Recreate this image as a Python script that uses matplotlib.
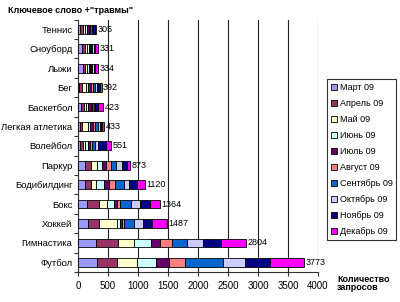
import matplotlib.pyplot as plt
import numpy as np
from matplotlib.ticker import MultipleLocator, FixedLocator

plt.rcParams['font.family'] = ['Liberation Sans', 'DejaVu Sans']

sports = ["Теннис", "Сноуборд", "Лыжи", "Бег", "Баскетбол", "Легкая атлетика",
          "Волейбол", "Паркур", "Бодибилдинг", "Бокс", "Хоккей", "Гимнастика", "Футбол"]
months = ["Март 09", "Апрель 09", "Май 09", "Июнь 09", "Июль 09", "Август 09",
          "Сентябрь 09", "Октябрь 09", "Ноябрь 09", "Декабрь 09"]
totals = [305, 331, 334, 392, 423, 433, 551, 873, 1120, 1364, 1487, 2804, 3773]

# запросы по месяцам (март..декабрь) для каждого вида спорта
values = {
    "Теннис":          [30, 50, 40, 30, 30, 20, 30, 20, 30, 25],
    "Сноуборд":        [70, 40, 40, 25, 25, 15, 25, 20, 20, 51],
    "Лыжи":            [90, 30, 30, 30, 20, 20, 20, 30, 20, 44],
    "Бег":             [20, 40, 70, 40, 40, 40, 40, 30, 40, 32],
    "Баскетбол":       [50, 50, 40, 30, 40, 30, 30, 20, 40, 93],
    "Легкая атлетика": [40, 20, 110, 30, 50, 40, 40, 30, 40, 33],
    "Волейбол":        [40, 40, 40, 40, 40, 30, 50, 50, 130, 91],
    "Паркур":          [112, 111, 94, 88, 67, 73, 95, 100, 83, 50],
    "Бодибилдинг":     [112, 111, 72, 133, 89, 95, 150, 88, 133, 137],
    "Бокс":            [157, 188, 138, 112, 55, 45, 183, 162, 155, 169],
    "Хоккей":          [167, 178, 305, 45, 38, 34, 166, 150, 150, 254],
    "Гимнастика":      [306, 361, 266, 279, 161, 194, 256, 260, 307, 414],
    "Футбол":          [317, 333, 333, 312, 217, 266, 639, 361, 428, 567],
}
colors = ["#9999FF", "#993366", "#FFFFCC", "#CCFFFF", "#660066", "#FF8080",
          "#0066CC", "#CCCCFF", "#000080", "#FF00FF"]

fig = plt.figure(figsize=(4, 3.02), dpi=100)
ax = fig.add_axes([0.195, 0.099, 0.6, 0.836])

y = np.arange(len(sports))[::-1]
data = np.array([values[s] for s in sports])
left = np.zeros(len(sports))
for j, m in enumerate(months):
    ax.barh(y, data[:, j], left=left, height=0.45, color=colors[j],
            edgecolor="black", linewidth=0.6, label=m, zorder=3)
    left += data[:, j]

for yi, t in zip(y, totals):
    ax.text(t + 25, yi, str(t), va="center", ha="left", fontsize=6.5, zorder=4)

ax.set_xlim(0, 4000)
ax.set_ylim(-0.5, len(sports) - 0.5)
ax.xaxis.set_major_locator(MultipleLocator(500))
ax.set_yticks(y)
ax.set_yticklabels(sports, fontsize=6.8)
ax.yaxis.set_minor_locator(FixedLocator(np.arange(-0.5, len(sports), 1)))
ax.tick_params(axis="y", which="major", length=0, pad=4)
ax.tick_params(axis="y", which="minor", length=3, width=0.8, color="#333333")
ax.tick_params(axis="x", labelsize=7, length=3, width=0.8, color="#333333")
ax.grid(axis="x", color="#222222", linewidth=0.8, zorder=0)
for side in ["top", "right"]:
    ax.spines[side].set_visible(False)
ax.spines["left"].set_color("#333333")
ax.spines["bottom"].set_color("#333333")

fig.text(0.02, 0.965, 'Ключевое слово +"травмы"', fontsize=6.5, fontweight="bold",
         ha="left", va="center")
fig.text(0.843, 0.062, "Количество\nзапросов", fontsize=6.5, fontweight="bold",
         ha="left", va="center", linespacing=0.9)

leg = fig.legend(loc="upper left", bbox_to_anchor=(0.818, 0.737), fontsize=6.5,
                 frameon=True, fancybox=False, edgecolor="black",
                 handlelength=0.7, handleheight=0.7, handletextpad=0.3,
                 labelspacing=0.78, borderpad=0.4, borderaxespad=0)
leg.get_frame().set_linewidth(0.8)

fig.savefig("out.png", dpi=100)
